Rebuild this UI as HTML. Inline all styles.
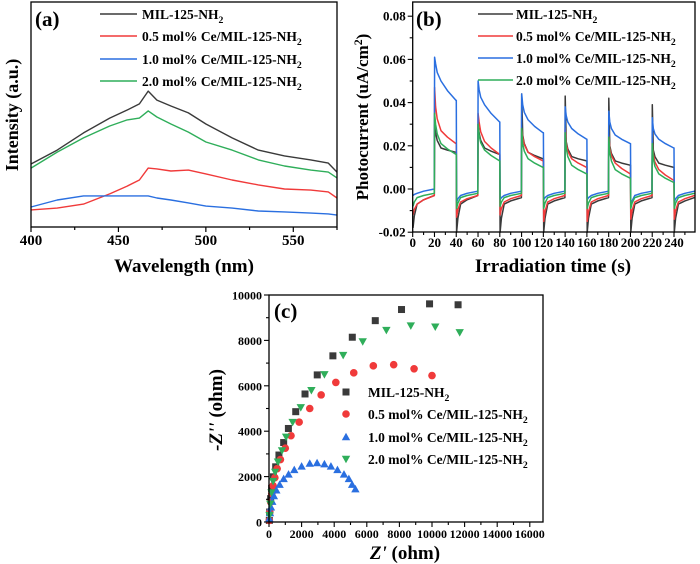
<!DOCTYPE html>
<html><head><meta charset="utf-8">
<style>
html,body{margin:0;padding:0;background:#fff;}
svg{display:block;font-family:"Liberation Serif",serif;font-weight:bold;}
</style></head>
<body>
<svg id="fig" width="700" height="564" viewBox="0 0 700 564" xmlns="http://www.w3.org/2000/svg">
<g id="pa"></g>
<g id="pb"></g>
<g id="pc"></g>
</svg>
<script>
// ---------- Panel (a) data ----------
const waveA = [400,415,430,445,455,462,467,472,480,490,500,515,530,545,560,570,575];
const plBlack = [28,34.2,41.8,48.4,52,54.7,60.4,56.4,53.8,50.7,45.8,39.6,34.2,31.6,29.8,28.4,24.4];
const plRed = [7.6,8.4,10.2,14.7,18.2,20.9,26.2,25.8,24.9,25.3,23.6,20.9,18.7,16.9,16.4,15.6,12.9];
const plBlue = [8.9,12,13.8,13.8,13.8,13.8,13.8,12.9,12,10.7,9.3,8.4,7.1,6.7,6.2,5.8,5.3];
const plGreen = [26.2,33.3,39.6,44.9,47.6,48.4,51.6,48.9,45.8,42.2,37.8,34.2,29.8,27.1,25.3,24.4,21.8];
const ticksA = [400,450,500,550];

// ---------- Panel (b) data ----------
const onStarts = [20,60,100,140,180,220];
const ticksBx = [0,20,40,60,80,100,120,140,160,180,200,220,240];
const ticksBy = [-0.02,0.00,0.02,0.04,0.06,0.08];
const bkPeak=[0.030,0.030,0.044,0.043,0.042,0.039], bkPost=[0.026,0.026,0.025,0.022,0.020,0.018], bkMid=[0.019,0.019,0.017,0.015,0.013,0.012], bkEnd=[0.017,0.016,0.014,0.013,0.011,0.010];
const bkDMin=[-0.018,-0.020,-0.020,-0.020,-0.020,-0.020,-0.020], bkDMid=[-0.007,-0.007,-0.007,-0.007,-0.007,-0.007,-0.007], bkDEnd=[-0.003,-0.003,-0.004,-0.004,-0.004,-0.004,-0.004];
const rdPeak=[0.047,0.035,0.028,0.028,0.025,0.021], rdPost=[0.038,0.031,0.024,0.021,0.019,0.016], rdMid=[0.027,0.022,0.017,0.014,0.012,0.009], rdEnd=[0.021,0.016,0.013,0.010,0.007,0.004];
const rdDMin=[-0.012,-0.013,-0.012,-0.015,-0.015,-0.014,-0.014], rdDMid=[-0.007,-0.006,-0.006,-0.006,-0.006,-0.006,-0.006], rdDEnd=[-0.003,-0.003,-0.003,-0.003,-0.003,-0.003,-0.003];
const blPeak=[0.061,0.050,0.044,0.038,0.036,0.033], blPost=[0.058,0.046,0.039,0.034,0.031,0.028], blMid=[0.050,0.039,0.032,0.028,0.025,0.023], blEnd=[0.041,0.031,0.026,0.023,0.021,0.019];
const blDMin=[-0.003,-0.006,-0.005,-0.005,-0.005,-0.008,-0.006], blDMid=[-0.002,-0.003,-0.003,-0.003,-0.003,-0.003,-0.003], blDEnd=[0.000,-0.001,-0.001,-0.001,-0.001,-0.001,-0.001];
const gnPeak=[0.035,0.030,0.028,0.026,0.024,0.021], gnPost=[0.030,0.025,0.021,0.019,0.017,0.014], gnMid=[0.021,0.018,0.014,0.011,0.009,0.007], gnEnd=[0.016,0.013,0.010,0.007,0.005,0.003];
const gnDMin=[-0.008,-0.009,-0.008,-0.009,-0.009,-0.009,-0.009], gnDMid=[-0.004,-0.004,-0.004,-0.004,-0.004,-0.004,-0.004], gnDEnd=[-0.002,-0.002,-0.002,-0.002,-0.002,-0.002,-0.002];

// ---------- Panel (c) data ----------
const ticksCx = [0,2000,4000,6000,8000,10000,12000,14000,16000];
const ticksCy = [0,2000,4000,6000,8000,10000];
const zReBlack = [11600,9850,8130,6520,5110,3920,2960,2210,1640,1190,900,610,410,270,160,100,40,20];
const zImBlack = [9570,9610,9360,8870,8140,7320,6480,5640,4860,4120,3500,2950,2430,1990,1480,1030,440,70];
const zReRed = [10000,8900,7650,6400,5200,4100,3200,2500,1850,1350,1000,700,500,360,250,170,100,50,20];
const zImRed = [6450,6750,6930,6880,6570,6150,5600,5000,4400,3800,3250,2750,2350,1950,1600,1250,880,440,70];
const zReBlue = [5300,5100,4900,4600,4200,3800,3400,2950,2500,2000,1550,1200,900,650,450,300,200,120,60,20];
const zImBlue = [1450,1650,1900,2100,2300,2450,2550,2600,2580,2450,2300,2100,1900,1650,1400,1150,900,650,400,150];
const zReGreen = [11700,10200,8700,7200,5750,4550,3400,2600,1950,1450,1050,800,550,380,250,150,80,30];
const zImGreen = [8350,8600,8650,8450,7950,7350,6500,5800,5050,4400,3750,3150,2650,2200,1800,1300,800,300];

const NS="http://www.w3.org/2000/svg";
function mk(parent,tag,attrs,text){const e=document.createElementNS(NS,tag);for(const k in attrs)e.setAttribute(k,attrs[k]);if(text!==undefined)e.textContent=text;parent.appendChild(e);return e;}
const C={black:"#3a3a3a",red:"#f03a3a",blue:"#2a6fe0",green:"#2fae5a"};
function sub(el,main,subtxt){ // text with subscript
  const t1=document.createElementNS(NS,'tspan');t1.textContent=main;el.appendChild(t1);
  const t2=document.createElementNS(NS,'tspan');t2.setAttribute('font-size','0.72em');t2.setAttribute('dy','4');t2.textContent=subtxt;el.appendChild(t2);
}
const names=["MIL-125-NH","0.5 mol% Ce/MIL-125-NH","1.0 mol% Ce/MIL-125-NH","2.0 mol% Ce/MIL-125-NH"];
const cols=[C.black,C.red,C.blue,C.green];

// ================= Panel A =================
(function(){
const g=document.getElementById('pa');
const L=31,R=337,T=2,B=227;
const xs=v=>L+(v-400)/(575-400)*(R-L);
const ys=v=>B-v/100*(B-T);
const series=[plBlack,plRed,plBlue,plGreen];
series.forEach((arr,i)=>{
  const p=mk(g,'polyline',{points:arr.map((v,j)=>xs(waveA[j]).toFixed(1)+','+ys(v).toFixed(1)).join(' '),fill:'none',stroke:cols[i],'stroke-width':1.4,'stroke-linejoin':'round'});
  
  
});
const box=mk(g,'rect',{x:L,y:T,width:R-L,height:B-T,fill:'none',stroke:'#000','stroke-width':1.3});

for(let w=400;w<=575;w+=25){const major=ticksA.includes(w);mk(g,'line',{x1:xs(w),x2:xs(w),y1:B,y2:B+(major?5:3),stroke:'#000','stroke-width':1.2});}
ticksA.forEach(w=>{const t=mk(g,'text',{x:xs(w),y:B+18,'font-size':15,'text-anchor':'middle'},String(w));
  });
const xl=mk(g,'text',{x:184,y:272,'font-size':19,'text-anchor':'middle'},'Wavelength (nm)');

const yl=mk(g,'text',{x:18,y:115,'font-size':18,'text-anchor':'middle',transform:'rotate(-90 18 115)'},'Intensity (a.u.)');

const lab=mk(g,'text',{x:35,y:26,'font-size':21},'(a)');

const rows=[14,36,59,81];
rows.forEach((y,i)=>{
  const ln=mk(g,'line',{x1:100,x2:137,y1:y,y2:y,stroke:cols[i],'stroke-width':1.5});
  
  const t=mk(g,'text',{x:142,y:y+5,'font-size':13.5});sub(t,names[i],'2');
  
});
})();

// ================= Panel B =================
(function(){
const g=document.getElementById('pb');
const L=412.7,R=695,T=2,B=232;
const xs=t=>L+t/240*(674-L);
const ys=v=>189-v/0.02*43.2;
const sets=[[bkPeak,bkPost,bkMid,bkEnd,bkDMin,bkDMid,bkDEnd],[rdPeak,rdPost,rdMid,rdEnd,rdDMin,rdDMid,rdDEnd],[blPeak,blPost,blMid,blEnd,blDMin,blDMid,blDEnd],[gnPeak,gnPost,gnMid,gnEnd,gnDMin,gnDMid,gnDEnd]];
sets.forEach((s,i)=>{
  const [pk,po,md,en,dmin,dmid,dend]=s;const pts=[];
  const darkStarts=[0].concat(onStarts.map(t=>t+20));
  darkStarts.forEach((t0,k)=>{
    const tEnd=k<onStarts.length?onStarts[k]:259;
    if(k>0) pts.push([t0,en[k-1]]);
    pts.push([t0+0.3,dmin[k]]);pts.push([t0+1.5,(dmin[k]+dmid[k])/2]);pts.push([t0+4,dmid[k]]);pts.push([t0+10,(dmid[k]+dend[k])/2]);pts.push([tEnd-0.2,dend[k]]);
    if(k<onStarts.length){const t=onStarts[k];
      pts.push([t+0.1,pk[k]]);pts.push([t+1,po[k]]);pts.push([t+2.5,(po[k]+md[k])/2]);pts.push([t+6,md[k]]);pts.push([t+12,(md[k]+en[k])/2]);pts.push([t+19.8,en[k]]);}
  });
  const p=mk(g,'polyline',{points:pts.map(q=>xs(q[0]).toFixed(1)+','+ys(q[1]).toFixed(1)).join(' '),fill:'none',stroke:cols[i],'stroke-width':1.5,'stroke-linejoin':'round'});
  
  
});
const box=mk(g,'rect',{x:L,y:T,width:R-L,height:B-T,fill:'none',stroke:'#000','stroke-width':1.3});

for(let t=0;t<=250;t+=10){const major=t%20===0;mk(g,'line',{x1:xs(t),x2:xs(t),y1:B,y2:B+(major?5:3),stroke:'#000','stroke-width':1.1});}
ticksBx.forEach(t=>{const e=mk(g,'text',{x:xs(t),y:B+15,'font-size':13,'text-anchor':'middle'},String(t));
  });
for(let v=-0.02;v<=0.0801;v+=0.01){const major=Math.round(v*100)%2===0;mk(g,'line',{x1:L,x2:L-(major?5:3),y1:ys(v),y2:ys(v),stroke:'#000','stroke-width':1.1});}
ticksBy.forEach(v=>{const e=mk(g,'text',{x:L-7,y:ys(v)+4.5,'font-size':13,'text-anchor':'end'},v.toFixed(2));
  });
const xl=mk(g,'text',{x:553,y:272,'font-size':19,'text-anchor':'middle'},'Irradiation time (s)');

const yl=mk(g,'text',{x:368,y:117,'font-size':17,'text-anchor':'middle',transform:'rotate(-90 368 117)'});
const a=document.createElementNS(NS,'tspan');a.textContent='Photocurrent (uA/cm';yl.appendChild(a);
const b=document.createElementNS(NS,'tspan');b.setAttribute('font-size','0.7em');b.setAttribute('dy','-6');b.textContent='2';yl.appendChild(b);
const c=document.createElementNS(NS,'tspan');c.setAttribute('dy','6');c.textContent=')';yl.appendChild(c);

const lab=mk(g,'text',{x:416,y:26,'font-size':21},'(b)');

const rows=[14,36,58,80];
rows.forEach((y,i)=>{
  const ln=mk(g,'line',{x1:478,x2:513,y1:y,y2:y,stroke:cols[i],'stroke-width':1.5});
  
  const t=mk(g,'text',{x:516,y:y+5,'font-size':13.5});sub(t,names[i],'2');
  
});
})();

// ================= Panel C =================
(function(){
const g=document.getElementById('pc');
const L=269,R=543,T=295,B=522;
const xs=v=>L+v/1000*16.3;
const ys=v=>B-v/10000*(B-T);
function marker(kind,x,y,col){
  let e;
  if(kind===0) e=mk(g,'rect',{x:x-3.5,y:y-3.5,width:7,height:7,fill:col});
  else if(kind===1) e=mk(g,'circle',{cx:x,cy:y,r:3.8,fill:col});
  else if(kind===2) e=mk(g,'polygon',{points:`${x},${y-4.2} ${x-4.2},${y+3.3} ${x+4.2},${y+3.3}`,fill:col});
  else e=mk(g,'polygon',{points:`${x},${y+4.2} ${x-4.2},${y-3.3} ${x+4.2},${y-3.3}`,fill:col});
  return e;
}
const ser=[[zReBlack,zImBlack],[zReRed,zImRed],[zReBlue,zImBlue],[zReGreen,zImGreen]];
ser.forEach((s,i)=>{s[0].forEach((re,j)=>{const m=marker(i,xs(re),ys(s[1][j]),cols[i]);
  });});
const box=mk(g,'rect',{x:L,y:T,width:R-L,height:B-T,fill:'none',stroke:'#000','stroke-width':1.3});

for(let v=0;v<=16000;v+=1000){const major=v%2000===0;mk(g,'line',{x1:xs(v),x2:xs(v),y1:B,y2:B+(major?5:3),stroke:'#000','stroke-width':1.1});}
ticksCx.forEach(v=>{const e=mk(g,'text',{x:xs(v),y:B+16,'font-size':12,'text-anchor':'middle'},String(v));
  });
for(let v=0;v<=10000;v+=1000){const major=v%2000===0;mk(g,'line',{x1:L,x2:L-(major?5:3),y1:ys(v),y2:ys(v),stroke:'#000','stroke-width':1.1});}
ticksCy.forEach(v=>{const e=mk(g,'text',{x:L-7,y:ys(v)+4.5,'font-size':12,'text-anchor':'end'},String(v));
  });
const xl=mk(g,'text',{x:405,y:559,'font-size':19,'text-anchor':'middle'});
const i1=document.createElementNS(NS,'tspan');i1.setAttribute('font-style','italic');i1.textContent="Z'";xl.appendChild(i1);
const i2=document.createElementNS(NS,'tspan');i2.textContent=" (ohm)";xl.appendChild(i2);

const yl=mk(g,'text',{x:222,y:410,'font-size':19,'text-anchor':'middle',transform:'rotate(-90 222 410)'});
const j1=document.createElementNS(NS,'tspan');j1.setAttribute('font-style','italic');j1.textContent="-Z''";yl.appendChild(j1);
const j2=document.createElementNS(NS,'tspan');j2.textContent=" (ohm)";yl.appendChild(j2);

const lab=mk(g,'text',{x:274,y:318,'font-size':21},'(c)');

const rows=[392,414,437,459];
rows.forEach((y,i)=>{
  const m=marker(i,346,y,cols[i]);
  
  const t=mk(g,'text',{x:368,y:y+5,'font-size':13.5});sub(t,names[i],'2');
  
});
})();
</script>
</body></html>
